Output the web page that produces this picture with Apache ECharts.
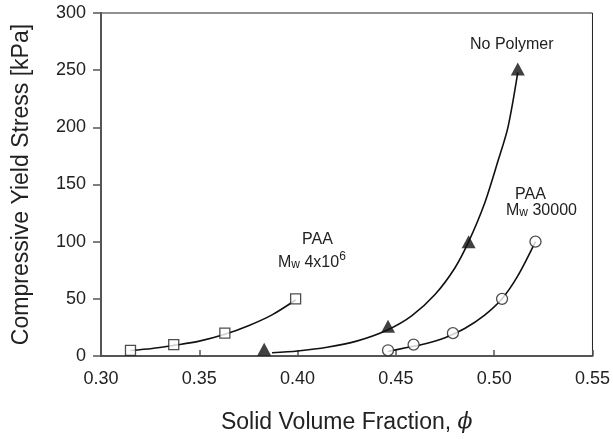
<!DOCTYPE html>
<html>
<head>
<meta charset="utf-8">
<script src="https://cdn.jsdelivr.net/npm/echarts@6/dist/echarts.min.js"></script>
<style>
  html, body { margin: 0; padding: 0; background: #fff; }
</style>
</head>
<body>
<div id="chart" style="width: 613px; height: 439px;"></div>
<script>
// values
const xTicks = [0.30, 0.35, 0.40, 0.45, 0.50, 0.55];
const yTicks = [0, 50, 100, 150, 200, 250, 300];

// PAA Mw 4x10^6 (open squares) + fitted curve
const paaHighPhi = [0.315, 0.337, 0.363, 0.399];
const paaHighStress = [5, 10, 20, 50];
const paaHighFitPhi = [0.315, 0.326, 0.337, 0.350, 0.363, 0.375, 0.387, 0.399];
const paaHighFitStress = [4.8, 6.5, 9.3, 13, 19, 26.5, 36, 49];

// No polymer (filled triangles) + fitted curve
const noPolyPhi = [0.383, 0.446, 0.487, 0.512];
const noPolyStress = [6, 26, 100, 251];
const noPolyFitPhi = [0.387, 0.400, 0.415, 0.430, 0.446, 0.458, 0.470, 0.480, 0.487, 0.495, 0.502, 0.507, 0.512];
const noPolyFitStress = [2.8, 4.4, 7.6, 13, 23, 35, 54, 77, 100, 133, 171, 200, 248];

// PAA Mw 30000 (open circles) + fitted curve
const paaLowPhi = [0.446, 0.459, 0.479, 0.504, 0.521];
const paaLowStress = [5, 10, 20, 50, 100];
const paaLowFitPhi = [0.446, 0.455, 0.465, 0.475, 0.485, 0.495, 0.504, 0.512, 0.521];
const paaLowFitStress = [4, 7.2, 10.7, 16, 24, 35.5, 50, 70, 100];

const pairs = (xs, ys) => xs.map((x, i) => [x, ys[i]]);

let myChart = echarts.init(document.getElementById("chart"));
const textColor = "#222";
const font = "Liberation Sans, Arial, sans-serif";

// shared look of the fitted lines
const fitLine = { color: "#111", width: 1.6 };
const openMark = { color: "#fff", borderColor: "#222", borderWidth: 1.3 };

function fitSeries(name, xs, ys) {
  return {
    name: name,
    type: "line",
    smooth: 0.3,
    data: pairs(xs, ys),
    showSymbol: false,
    symbol: "none",
    lineStyle: fitLine,
    z: 2
  };
}

myChart.setOption({
  animation: false,
  textStyle: { fontFamily: font },
  grid: {
    left: 101,
    right: 20,
    top: 13,
    bottom: 83,
    show: true,
    borderColor: "#222",
    borderWidth: 1
  },
  xAxis: {
    type: "value",
    min: xTicks[0],
    max: xTicks[xTicks.length - 1],
    interval: 0.05,
    name: "Solid Volume Fraction, {phi|\u03D5}",
    nameLocation: "middle",
    nameGap: 55,
    nameTextStyle: {
      fontSize: 23,
      color: textColor,
      rich: {
        phi: { fontFamily: "DejaVu Serif", fontStyle: "italic", fontSize: 22, color: textColor }
      }
    },
    axisLine: { lineStyle: { color: "#555", width: 2 } },
    axisTick: { inside: true, length: 6, lineStyle: { color: "#555", width: 1.5 } },
    axisLabel: { fontSize: 18, color: textColor, margin: 14, formatter: v => v.toFixed(2) },
    splitLine: { show: false }
  },
  yAxis: {
    type: "value",
    min: yTicks[0],
    max: yTicks[yTicks.length - 1],
    interval: 50,
    name: "Compressive Yield Stress [kPa]",
    nameLocation: "middle",
    nameGap: 68,
    nameTextStyle: { fontSize: 23, color: textColor },
    axisLine: { show: true, lineStyle: { color: "#555", width: 2 } },
    axisTick: { show: true, length: 8, lineStyle: { color: "#555", width: 1.5 } },
    axisLabel: { fontSize: 18, color: textColor, margin: 15 },
    splitLine: { show: false }
  },
  series: [
    fitSeries("PAA 4x10^6 fit", paaHighFitPhi, paaHighFitStress),
    fitSeries("No Polymer fit", noPolyFitPhi, noPolyFitStress),
    fitSeries("PAA 30000 fit", paaLowFitPhi, paaLowFitStress),
    {
      name: "PAA 4x10^6",
      type: "scatter",
      data: pairs(paaHighPhi, paaHighStress),
      symbol: "rect",
      symbolSize: 10,
      itemStyle: openMark,
      z: 4
    },
    {
      name: "No Polymer",
      type: "scatter",
      data: pairs(noPolyPhi, noPolyStress),
      symbol: "triangle",
      symbolSize: [14, 13],
      itemStyle: { color: "#111" },
      z: 4
    },
    {
      name: "PAA 30000",
      type: "scatter",
      data: pairs(paaLowPhi, paaLowStress),
      symbol: "circle",
      symbolSize: 11,
      itemStyle: openMark,
      z: 4
    }
  ],
  graphic: [
    {
      type: "text", left: 470, top: 37,
      style: { text: "No Polymer", font: "16px " + font, fill: textColor }
    },
    {
      type: "text", left: 515, top: 187,
      style: { text: "PAA", font: "16px " + font, fill: textColor }
    },
    {
      type: "text", left: 506, top: 203,
      style: {
        text: "{m|M}{s|w}{m| 30000}",
        fill: textColor,
        rich: {
          m: { fontSize: 16, fontFamily: font, fill: textColor, verticalAlign: "bottom", lineHeight: 20 },
          s: { fontSize: 12, fontFamily: font, fill: textColor, verticalAlign: "bottom", lineHeight: 14 }
        }
      }
    },
    {
      type: "text", left: 302, top: 232,
      style: { text: "PAA", font: "16px " + font, fill: textColor }
    },
    {
      type: "text", left: 278, top: 251,
      style: {
        text: "{m|M}{s|w}{m| 4x10}{p|6}",
        fill: textColor,
        rich: {
          m: { fontSize: 16, fontFamily: font, fill: textColor, verticalAlign: "bottom", lineHeight: 20 },
          s: { fontSize: 12, fontFamily: font, fill: textColor, verticalAlign: "bottom", lineHeight: 14 },
          p: { fontSize: 12, fontFamily: font, fill: textColor, verticalAlign: "top", lineHeight: 20 }
        }
      }
    }
  ]
});
</script>
</body>
</html>
